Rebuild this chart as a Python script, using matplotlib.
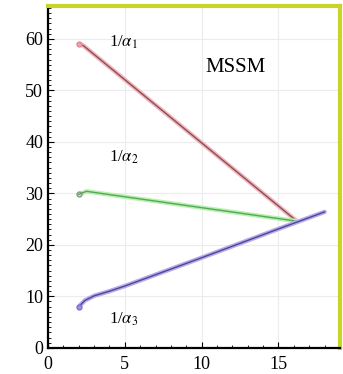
import matplotlib
matplotlib.use("Agg")
import matplotlib.pyplot as plt
from matplotlib.ticker import MultipleLocator

plt.rcParams["font.family"] = ["Liberation Serif", "DejaVu Serif"]
plt.rcParams["mathtext.fontset"] = "stix"

# running inverse couplings vs log10(Q/GeV)
x1 = [2.0, 2.3, 16.2]
a1 = [59.0, 58.7, 24.6]
x2 = [2.0, 2.5, 16.2]
a2 = [29.8, 30.4, 24.6]
x3 = [2.0, 2.4, 3.0, 4.0, 5.0, 10.0, 15.0, 18.0]
a3 = [8.0, 9.2, 10.1, 11.0, 12.0, 17.5, 23.1, 26.4]

xticks = [0, 5, 10, 15]
yticks = [0, 10, 20, 30, 40, 50, 60]

fig = plt.figure(figsize=(3.43, 3.74), dpi=100)
ax = fig.add_axes([0.14, 0.07, 0.851, 0.914])

ax.grid(True, color="#ececec", linewidth=0.8)
ax.set_axisbelow(True)

# each curve: soft wide band with a darker core
for xs, ys, light, dark in [
    (x1, a1, "#f2b5c0", "#8a4f4f"),
    (x2, a2, "#b8f0b0", "#55a855"),
    (x3, a3, "#b8a8ee", "#4a4a90"),
]:
    ax.plot(xs, ys, color=light, linewidth=3.2, solid_capstyle="round")
    ax.plot(xs, ys, color=dark, linewidth=1.0)

ax.plot([2.0], [59.0], "o", ms=3.5, mfc="#f2a0b0", mec="#e08898")
ax.plot([2.0], [29.8], "o", ms=3.5, mfc="none", mec="#909090")
ax.plot([2.0], [8.0], "o", ms=3.5, mfc="#a090e0", mec="#8070d0")

ax.text(4.0, 58.5, r"1/$\alpha_1$", fontsize=12)
ax.text(4.0, 36.2, r"1/$\alpha_2$", fontsize=12)
ax.text(4.0, 4.8, r"1/$\alpha_3$", fontsize=12)
ax.text(12.2, 53.5, "MSSM", fontsize=15, ha="center")

ax.set_xlim(0, 19.0)
ax.set_ylim(0, 66.4)
ax.set_xticks(xticks)
ax.set_yticks(yticks)
ax.yaxis.set_minor_locator(MultipleLocator(1))
ax.xaxis.set_minor_locator(MultipleLocator(1))
ax.tick_params(which="both", direction="in", labelsize=13)
ax.tick_params(which="major", length=4)
ax.tick_params(which="minor", length=2)
ax.tick_params(axis="x", pad=6)

for side in ("left", "bottom"):
    ax.spines[side].set_linewidth(1.6)
    ax.spines[side].set_color("black")
for side in ("top", "right"):
    ax.spines[side].set_linewidth(3.0)
    ax.spines[side].set_color("#c8d428")

fig.savefig("out.png", dpi=100)
